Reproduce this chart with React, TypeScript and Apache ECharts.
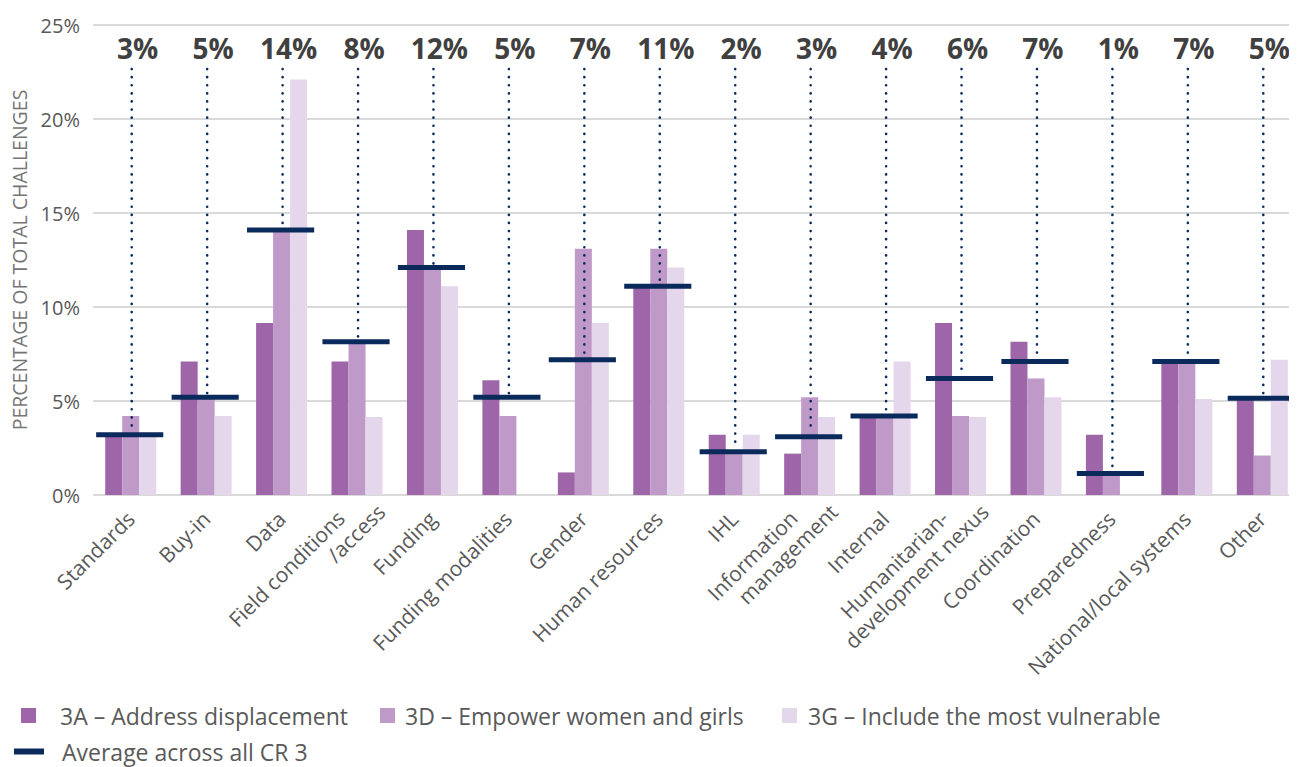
import React, { useEffect, useRef } from "react";
import * as echarts from "echarts";

const categories = [
  "Standards",
  "Buy-in",
  "Data",
  "Field conditions\n/access",
  "Funding",
  "Funding modalities",
  "Gender",
  "Human resources",
  "IHL",
  "Information\nmanagement",
  "Internal",
  "Humanitarian-\ndevelopment nexus",
  "Coordination",
  "Preparedness",
  "National/local systems",
  "Other",
];

const s3A = [3.1, 7.1, 9.15, 7.1, 14.1, 6.1, 1.2, 11.1, 3.2, 2.2, 4.2, 9.15, 8.15, 3.2, 7.1, 5.15];
const s3D = [4.2, 5.2, 14.0, 8.1, 12.1, 4.2, 13.1, 13.1, 2.3, 5.2, 4.2, 4.2, 6.2, 1.15, 7.1, 2.1];
const s3G = [3.1, 4.2, 22.1, 4.15, 11.1, 0, 9.15, 12.1, 3.2, 4.15, 7.1, 4.15, 5.2, 0, 5.1, 7.2];
const avgValues = [3.2, 5.2, 14.1, 8.15, 12.1, 5.2, 7.2, 11.1, 2.3, 3.1, 4.2, 6.2, 7.1, 1.15, 7.1, 5.15];
const avgLabels = ["3%", "5%", "14%", "8%", "12%", "5%", "7%", "11%", "2%", "3%", "4%", "6%", "7%", "1%", "7%", "5%"];
const yTicks = [0, 5, 10, 15, 20, 25];

const seriesNames = [
  "3A \u2013 Address displacement",
  "3D \u2013 Empower women and girls",
  "3G \u2013 Include the most vulnerable",
  "Average across all CR 3",
];

const FONT = "'Open Sans', 'Noto Sans', sans-serif";
const NAVY = "#0a2a5b";
const C3A = "#9e66a8";
const C3D = "#bf9ac8";
const C3G = "#e4d7eb";
const TEXT = "#595959";

export default function App() {
  const ref = useRef<HTMLDivElement>(null);

  useEffect(() => {
    if (!ref.current) return;
    const chart = echarts.init(ref.current, null, { renderer: "svg" });

    const legendBase = {
      orient: "horizontal",
      padding: 0,
      itemWidth: 15,
      itemHeight: 15,
      textStyle: { fontFamily: FONT, fontSize: 23, color: TEXT },
      selectedMode: false,
    };

    const option: any = {
      animation: false,
      backgroundColor: "#ffffff",
      grid: { left: 93, right: 2, top: 25, bottom: 272, containLabel: false },
      legend: [
        {
          ...legendBase,
          left: 21,
          top: 704,
          data: [{ name: seriesNames[0], icon: "rect" }],
          textStyle: { ...legendBase.textStyle, padding: [0, 0, 0, 19] },
        },
        {
          ...legendBase,
          left: 380,
          top: 704,
          data: [{ name: seriesNames[1], icon: "rect" }],
          textStyle: { ...legendBase.textStyle, padding: [0, 0, 0, 5] },
        },
        {
          ...legendBase,
          left: 782,
          top: 704,
          data: [{ name: seriesNames[2], icon: "rect" }],
          textStyle: { ...legendBase.textStyle, padding: [0, 0, 0, 6] },
        },
        {
          ...legendBase,
          left: 14,
          top: 740,
          itemWidth: 30,
          itemHeight: 6,
          data: [{ name: seriesNames[3], icon: "rect" }],
          textStyle: { ...legendBase.textStyle, padding: [0, 0, 0, 13] },
        },
      ],
      xAxis: {
        type: "category",
        data: categories,
        boundaryGap: true,
        axisLine: { show: false },
        axisTick: { show: false },
        axisLabel: {
          interval: 0,
          rotate: 45,
          margin: 20,
          fontFamily: FONT,
          fontSize: 21,
          color: TEXT,
          formatter: (v: string) => {
            if (v.indexOf("\n") >= 0) {
              const [l1, l2] = v.split("\n");
              return `{a|${l1}}\n{b|${l2}}`;
            }
            return v;
          },
          rich: {
            a: { fontFamily: FONT, fontSize: 21, color: TEXT, lineHeight: 24, padding: [0, 11, 0, 0] },
            b: { fontFamily: FONT, fontSize: 21, color: TEXT, lineHeight: 24, padding: [0, -22, 0, 0] },
          },
        },
      },
      yAxis: {
        type: "value",
        min: yTicks[0],
        max: yTicks[yTicks.length - 1],
        interval: yTicks[1] - yTicks[0],
        name: "PERCENTAGE OF TOTAL CHALLENGES",
        nameLocation: "middle",
        nameGap: 63,
        nameTextStyle: { fontFamily: FONT, fontSize: 19.5, color: "#767676" },
        axisLine: { show: false },
        axisTick: { show: false },
        axisLabel: {
          margin: 13,
          fontFamily: FONT,
          fontSize: 20,
          color: TEXT,
          formatter: "{value}%",
        },
        splitLine: { lineStyle: { color: "#d9d9d9", width: 2 } },
      },
      series: [
        {
          name: seriesNames[0],
          type: "bar",
          data: s3A,
          barWidth: 17,
          barGap: "0%",
          itemStyle: { color: C3A },
        },
        {
          name: seriesNames[1],
          type: "bar",
          data: s3D,
          barWidth: 17,
          barGap: "0%",
          itemStyle: { color: C3D },
        },
        {
          name: seriesNames[2],
          type: "bar",
          data: s3G,
          barWidth: 17,
          barGap: "0%",
          itemStyle: { color: C3G },
        },
        {
          name: seriesNames[3],
          type: "custom",
          z: 5,
          itemStyle: { color: NAVY },
          data: avgValues.map((v, i) => [i, v]),
          encode: { x: 0, y: 1 },
          renderItem: (params: any, api: any) => {
            const i = api.value(0);
            const v = api.value(1);
            const p = api.coord([i, v]);
            const top = api.coord([i, yTicks[yTicks.length - 1]])[1];
            const band = api.size([1, 0])[0];
            const w = band * 0.89;
            const cx = p[0];
            return {
              type: "group",
              children: [
                {
                  type: "line",
                  shape: { x1: cx + 1, y1: top + 44, x2: cx + 1, y2: p[1] - 4 },
                  style: { stroke: NAVY, lineWidth: 2.6, lineDash: [0.1, 8], lineCap: "round" },
                },
                {
                  type: "rect",
                  shape: { x: cx - w / 2 - 1, y: p[1] - 2.5, width: w, height: 5 },
                  style: { fill: NAVY },
                },
                {
                  type: "text",
                  style: {
                    text: avgLabels[i],
                    x: cx + 7,
                    y: top + 23,
                    align: "center",
                    verticalAlign: "middle",
                    fontFamily: FONT,
                    fontSize: 28,
                    fontWeight: "bold",
                    fill: "#404040",
                  },
                },
              ],
            };
          },
        },
      ],
      graphic: [
        {
          type: "rect",
          z: 100,
          shape: { x: 1289, y: 0, width: 13, height: 500 },
          style: { fill: "#ffffff" },
        },
      ],
    };

    chart.setOption(option);
    return () => chart.dispose();
  }, []);

  return (
    <div
      ref={ref}
      style={{ position: "fixed", left: 0, top: 0, width: 1302, height: 767, background: "#fff" }}
    />
  );
}
